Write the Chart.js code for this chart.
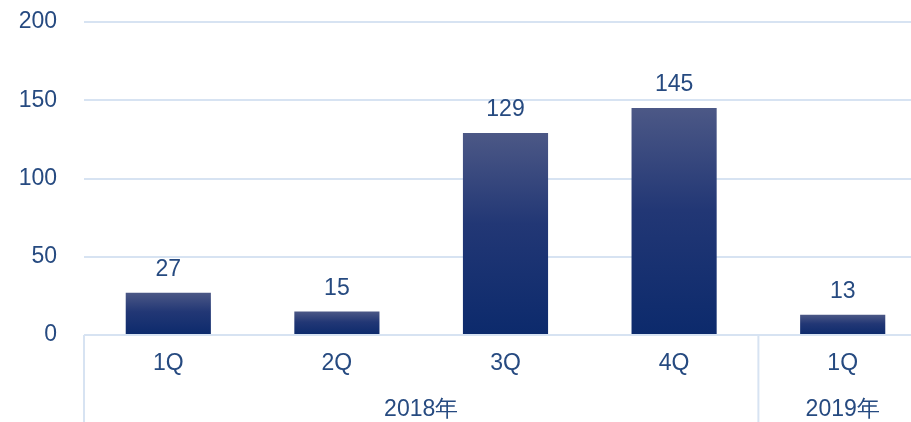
<!DOCTYPE html>
<html><head><meta charset="utf-8">
<script src="https://cdn.jsdelivr.net/npm/chart.js@4"></script>
<style>
html,body{margin:0;padding:0;background:#fff;overflow:hidden;width:911px;height:422px;}
#wrap{position:relative;width:927px;height:422px;}
</style></head>
<body><div id="wrap"><canvas id="c"></canvas></div>
<script>
const quarters = ['1Q','2Q','3Q','4Q','1Q'];
const years = [{label:'2018年', from:0, to:3}, {label:'2019年', from:4, to:4}];
const values = [27, 15, 129, 145, 13];
const yTicks = [0, 50, 100, 150, 200];

const TEXT = '#264a80';
const GRID = '#d7e3f2';
const FONT = "'Liberation Sans', Arial, sans-serif";
const FS = 23;

function barFill(ctx){
  const chart = ctx.chart;
  if(!chart.chartArea) return '#1a3272';
  const y = chart.scales.y;
  const v = ctx.parsed ? ctx.parsed.y : values[ctx.dataIndex];
  const top = y.getPixelForValue(v), bot = y.getPixelForValue(0);
  if(!(bot>top)) return '#1a3272';
  const g = chart.ctx.createLinearGradient(0, top, 0, bot);
  g.addColorStop(0, '#4c5886');
  g.addColorStop(0.45, '#223775');
  g.addColorStop(1, '#0c2a6c');
  return g;
}

const extras = {
  id:'extras',
  afterDatasetsDraw(chart){
    const c = chart.ctx, x = chart.scales.x, ca = chart.chartArea;
    const meta = chart.getDatasetMeta(0);
    c.save();
    c.font = FS + 'px ' + FONT;
    c.fillStyle = TEXT;
    c.textAlign = 'center';
    c.textBaseline = 'middle';
    meta.data.forEach((b,i)=>{ c.fillText(String(values[i]), b.x, b.y - 23); });
    c.strokeStyle = GRID; c.lineWidth = 2;
    const half = (x.getPixelForValue(1) - x.getPixelForValue(0))/2;
    const seps = [x.getPixelForValue(0)-half];
    years.forEach(yr=>seps.push(x.getPixelForValue(yr.to)+half));
    seps.forEach(px=>{ c.beginPath(); c.moveTo(px, ca.bottom); c.lineTo(px, chart.height); c.stroke(); });
    years.forEach(yr=>{
      const cx = (x.getPixelForValue(yr.from)+x.getPixelForValue(yr.to))/2;
      c.fillText(yr.label, cx, ca.bottom + 75);
    });
    c.restore();
  }
};

new Chart(document.getElementById('c'), {
  type:'bar',
  data:{ labels: quarters, datasets:[{ data: values, backgroundColor: barFill, borderWidth:0,
    barPercentage:0.505, categoryPercentage:1 }]},
  options:{
    responsive:true, maintainAspectRatio:false, animation:false,
    layout:{padding:{top:22,left:0,right:0,bottom:0}},
    plugins:{legend:{display:false}, tooltip:{enabled:false}},
    scales:{
      x:{
        grid:{display:false, drawTicks:false}, border:{display:false},
        ticks:{color:TEXT, font:{size:FS, family:FONT}, padding:15, maxRotation:0},
        afterFit(s){ s.height = 87; s.paddingLeft = 0; s.paddingRight = 0; }
      },
      y:{
        min:0, max:200,
        afterBuildTicks(s){ s.ticks = yTicks.map(v=>({value:v})); },
        grid:{color:GRID, lineWidth:2, drawTicks:false},
        border:{display:false},
        ticks:{color:TEXT, font:{size:FS, family:FONT}, padding:27},
        afterFit(s){ s.width = 84; s.paddingTop = 0; s.paddingBottom = 0; }
      }
    }
  },
  plugins:[extras]
});
</script></body></html>
